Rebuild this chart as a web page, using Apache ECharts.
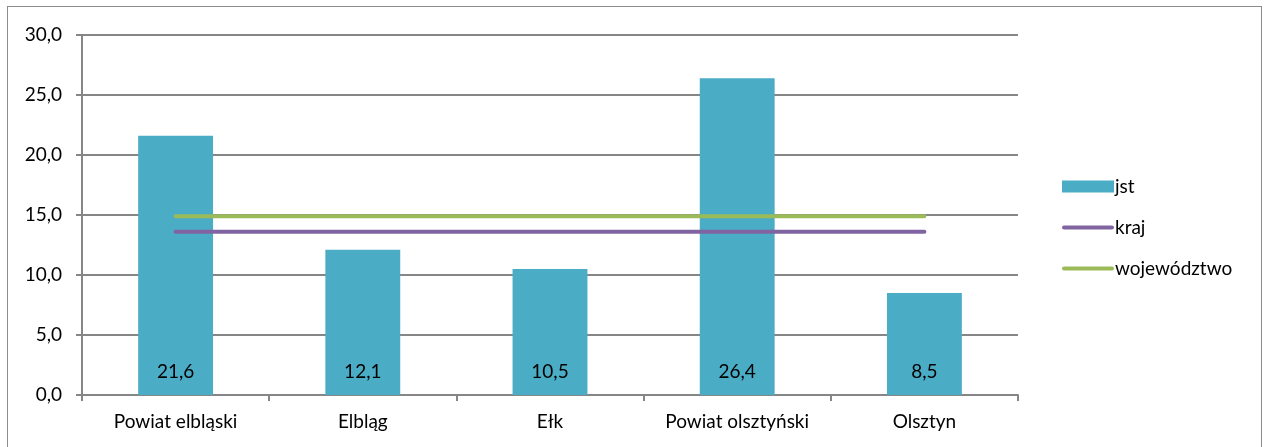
<!DOCTYPE html>
<html>
<head>
<meta charset="utf-8">
<script src="https://cdn.jsdelivr.net/npm/echarts@6/dist/echarts.min.js"></script>
<style>
html,body{margin:0;padding:0;background:#fff;}
#frame{position:absolute;left:7px;top:6px;width:1255px;height:460px;border:1px solid #8c8c8c;box-sizing:border-box;}
#chart{position:absolute;left:0;top:0;width:1265px;height:447px;}
</style>
</head>
<body>
<div id="frame"></div>
<div id="chart"></div>
<script>
const categories = ['Powiat elbląski', 'Elbląg', 'Ełk', 'Powiat olsztyński', 'Olsztyn'];
const jst = [21.6, 12.1, 10.5, 26.4, 8.5];
const kraj = [13.6, 13.6, 13.6, 13.6, 13.6];
const wojewodztwo = [14.9, 14.9, 14.9, 14.9, 14.9];

const fmt = v => Number(v).toFixed(1).replace('.', ',');
const FONT = 'Lato, "Open Sans", sans-serif';
const FS = 19;
const lineIcon = 'path://M2,0 H50 A2,2 0 0 1 50,4 H2 A2,2 0 0 1 2,0 Z';
const chart = echarts.init(document.getElementById('chart'), null, {renderer: 'canvas'});
chart.setOption({
  animation: false,
  textStyle: {fontFamily: FONT},
  grid: {left: 82, right: 247, top: 35, bottom: 52, containLabel: false},
  legend: {
    orient: 'vertical', left: 1057, top: 172, itemGap: 22,
    itemWidth: 52, itemHeight: 12,
    textStyle: {fontSize: FS, color: '#000', fontFamily: FONT, padding: [0,0,0,-4]},
    data: [
      {name: 'jst', icon: 'rect'},
      {name: 'kraj', icon: lineIcon, itemStyle: {color: '#8064A2'}},
      {name: 'województwo', icon: lineIcon, itemStyle: {color: '#9BBB59'}}
    ]
  },
  xAxis: {
    type: 'category', data: categories, boundaryGap: true,
    axisLine: {lineStyle: {color: '#868686', width: 2}},
    axisTick: {show: true, length: 6, alignWithLabel: false, lineStyle: {color: '#868686', width: 2}},
    axisLabel: {fontSize: FS, color: '#000', margin: 17, fontFamily: FONT}
  },
  yAxis: {
    type: 'value', min: 0, max: 30, interval: 5,
    axisLine: {show: true, lineStyle: {color: '#868686', width: 2}},
    axisTick: {show: true, length: 6, lineStyle: {color: '#868686', width: 2}},
    axisLabel: {fontSize: FS, color: '#000', margin: 20, formatter: fmt, fontFamily: FONT},
    splitLine: {lineStyle: {color: '#868686', width: 2}}
  },
  series: [
    {
      name: 'jst', type: 'bar', data: jst, barCategoryGap: '60%',
      itemStyle: {color: '#4BACC6'},
      label: {show: true, position: 'insideBottom', distance: 14, fontSize: FS, color: '#000', formatter: p => fmt(p.value), fontFamily: FONT}
    },
    {
      name: 'kraj', type: 'line', data: kraj, symbol: 'none', showSymbol: false,
      lineStyle: {color: '#8064A2', width: 4, cap: 'round'}, itemStyle: {color: '#8064A2'}
    },
    {
      name: 'województwo', type: 'line', data: wojewodztwo, symbol: 'none', showSymbol: false,
      lineStyle: {color: '#9BBB59', width: 4, cap: 'round'}, itemStyle: {color: '#9BBB59'}
    }
  ]
});
</script>
</body>
</html>
